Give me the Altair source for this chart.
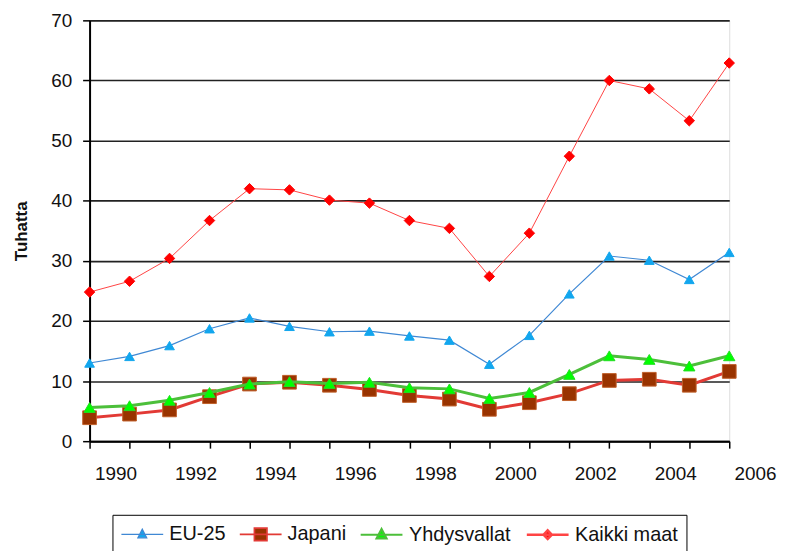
import altair as alt
import pandas as pd

years = list(range(1990, 2007))
series_names = ["EU-25", "Japani", "Yhdysvallat", "Kaikki maat"]
eu25 = [13.0, 14.1, 15.9, 18.7, 20.5, 19.1, 18.2, 18.3, 17.5, 16.8, 12.8, 17.6, 24.5, 30.8, 30.1, 26.9, 31.4]
japani = [3.9, 4.5, 5.2, 7.4, 9.5, 9.8, 9.3, 8.6, 7.6, 7.0, 5.3, 6.4, 7.9, 10.1, 10.3, 9.3, 11.6]
yhdysvallat = [5.6, 5.9, 6.8, 8.1, 9.5, 9.9, 9.6, 9.8, 8.9, 8.7, 7.1, 8.1, 11.1, 14.2, 13.6, 12.5, 14.2]
kaikki = [24.8, 26.6, 30.4, 36.7, 42.0, 41.8, 40.1, 39.6, 36.7, 35.4, 27.4, 34.6, 47.4, 60.0, 58.6, 53.3, 62.9]
y_ticks = [0, 10, 20, 30, 40, 50, 60, 70]

values = {"EU-25": eu25, "Japani": japani, "Yhdysvallat": yhdysvallat, "Kaikki maat": kaikki}
rows = []
for s in series_names:
    for yr, v in zip(years, values[s]):
        rows.append({"year": yr, "series": s, "value": v})
df = pd.DataFrame(rows)

style = {
    "EU-25": dict(line="#3f88d4", lw=1.2, shape="triangle-up", fill="#12a6ee", stroke="#12a6ee", size=95),
    "Japani": dict(line="#e23a35", lw=3, shape="square", fill="#993300", stroke="#c0602a", size=190),
    "Yhdysvallat": dict(line="#4cbf3a", lw=3, shape="triangle-up", fill="#00ff00", stroke="#22dd22", size=130),
    "Kaikki maat": dict(line="#ff4444", lw=1, shape="diamond", fill="#ff0000", stroke="#ff0000", size=110),
}

legend_paths = {
    "EU-25": "M-1,0H3M1,-0.5L1.42,0.32L0.58,0.32Z",
    "Japani": "M-1,0H3M0.4,-0.6H1.6V0.6H0.4Z",
    "Yhdysvallat": "M-1,0H3M1,-0.55L1.48,0.35L0.52,0.35Z",
    "Kaikki maat": "M-1,0H3M1,-0.42L1.4,0L1,0.42L0.6,0Z",
}

font = "Liberation Sans"

x_enc = alt.X("year:Q", scale=alt.Scale(domain=[1990, 2006], nice=False, zero=False),
              axis=alt.Axis(values=years, format="d",
                            labelExpr="datum.value % 2 == 0 ? datum.label : ''",
                            labelOffset=26, labelPadding=17, tickSize=7, tickWidth=1.5,
                            tickColor="#000", domainColor="#000", domainWidth=2,
                            labelFontSize=19, labelFont=font, labelColor="#111",
                            labelFlush=False, labelOverlap=False, grid=False, title=None))
y_enc = alt.Y("value:Q", scale=alt.Scale(domain=[0, 70], nice=False),
              axis=alt.Axis(values=y_ticks, title="Tuhatta", titleFont=font, titleFontSize=17,
                            titleFontWeight="bold", titleColor="#111", titlePadding=20,
                            labelFontSize=19, labelFont=font, labelColor="#111",
                            labelPadding=11, tickSize=7, tickWidth=1.5, tickColor="#000",
                            domainColor="#000", domainWidth=2,
                            grid=True, gridColor="#222", gridWidth=1.6))

base = alt.Chart(df)
layers = []
for s in series_names:
    st = style[s]
    sub = base.transform_filter(alt.datum.series == s)
    layers.append(sub.mark_line(color=st["line"], strokeWidth=st["lw"]).encode(x=x_enc, y=y_enc))
    layers.append(sub.mark_point(filled=True, opacity=1, shape=st["shape"], size=st["size"],
                                 fill=st["fill"], stroke=st["stroke"], strokeWidth=1)
                  .encode(x=x_enc, y=y_enc))

leg = alt.Legend(title=None, orient="none", legendX=23, legendY=497, direction="horizontal",
                 strokeColor="#000", padding=8, labelFontSize=20, labelFont=font,
                 labelColor="#111", symbolSize=441, labelOffset=26, columnPadding=10)

legend_layer = base.transform_filter("false").mark_point(filled=True, opacity=1).encode(
    x=x_enc, y=y_enc,
    fill=alt.Fill("series:N", scale=alt.Scale(domain=series_names,
                                              range=[style[s]["fill"] for s in series_names]), legend=leg),
    stroke=alt.Stroke("series:N", scale=alt.Scale(domain=series_names,
                                                  range=[style[s]["line"] for s in series_names]), legend=leg),
    shape=alt.Shape("series:N", scale=alt.Scale(domain=series_names,
                                                range=[legend_paths[s] for s in series_names]), legend=leg),
    strokeWidth=alt.StrokeWidth("series:N", scale=alt.Scale(domain=series_names,
                                                            range=[1.3, 2.5, 2.5, 1.2]), legend=leg),
)

chart = alt.layer(*layers, legend_layer).properties(
    width=643, height=423,
    padding={"left": 4, "top": 2, "right": 0, "bottom": 0},
).configure_view(stroke="#000", strokeWidth=1.6).configure(background="white")

chart.save("out.html", embed_options={"renderer": "svg", "actions": False})
